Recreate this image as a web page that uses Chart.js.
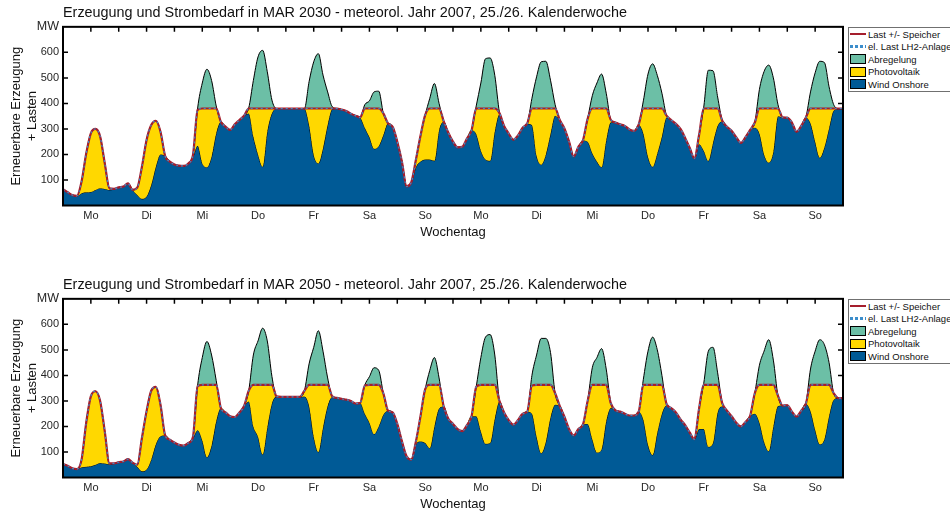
<!DOCTYPE html>
<html lang="de">
<head>
<meta charset="utf-8">
<script src="https://cdn.jsdelivr.net/npm/chart.js@4.4.0/dist/chart.umd.min.js"></script>
<style>
    html, body { margin: 0; padding: 0; background: #fff; overflow: hidden; }
    body { width: 950px; height: 513px; position: relative; font-family: "Liberation Sans", Arial, sans-serif; }
    .panel { position: absolute; left: 0; width: 950px; height: 244px; }
    .legend { position: absolute; left: 848px; width: 110px; border: 1px solid #707070; background: #fff;
              font-size: 9.5px; color: #111; }
    .legend .row { height: 12.5px; display: flex; align-items: center; white-space: nowrap; }
    .legend .sym { width: 16px; margin: 0 2px 0 1px; box-sizing: border-box; flex: none; }
    .sym.line { height: 2px; background: #a51e2d; }
    .sym.dots { height: 3px; background: repeating-linear-gradient(90deg, #3c8dcb 0 3px, transparent 3px 5px); }
    .sym.box { height: 10px; border: 1px solid #000; }
</style>
</head>
<body>

<div class="panel" style="top:0"><canvas id="chart2030" width="950" height="244"></canvas></div>
<div class="panel" style="top:272px"><canvas id="chart2050" width="950" height="244"></canvas></div>

<div class="legend" style="top:27px"></div>
<div class="legend" style="top:299px"></div>

<script>
    const dayLabels = ["Mo", "Di", "Mi", "Do", "Fr", "Sa", "So", "Mo", "Di", "Mi", "Do", "Fr", "Sa", "So"];
    const yTicks = [100, 200, 300, 400, 500, 600];
    const hourStep = 2;   // one value every 2 hours, 25./26. KW

    // MAR 2030
    const wind2030 = [
        64, 52, 41, 37, 48, 52, 53, 61, 68, 65, 61, 64,
        71, 74, 87, 61, 41, 26, 35, 80, 152, 200, 194, 172,
        161, 156, 155, 165, 191, 234, 165, 150, 191, 283, 328, 309,
        296, 318, 335, 352, 360, 270, 200, 152, 289, 361, 380, 380,
        380, 380, 380, 380, 380, 315, 198, 165, 224, 315, 378, 380,
        376, 370, 360, 352, 345, 305, 268, 222, 232, 276, 322, 308,
        250, 172, 75, 90, 150, 172, 180, 180, 175, 295, 328, 285,
        250, 228, 230, 262, 295, 280, 215, 180, 175, 290, 357, 312,
        282, 258, 275, 305, 320, 315, 195, 160, 200, 280, 352, 335,
        302, 250, 192, 230, 255, 250, 205, 172, 150, 255, 326, 325,
        318, 312, 298, 292, 315, 282, 190, 152, 204, 270, 345, 335,
        320, 300, 265, 225, 185, 240, 215, 175, 245, 312, 330, 309,
        293, 268, 245, 268, 296, 305, 282, 200, 168, 211, 350, 345,
        344, 325, 289, 312, 345, 322, 250, 187, 228, 302, 372, 378, 378
    ];
    const last2030 = [
        64, 52, 41, 38, 94, 204, 283, 300, 270, 165, 67, 65,
        71, 74, 87, 61, 70, 152, 257, 315, 332, 289, 194, 172,
        161, 156, 155, 165, 198, 375, 380, 380, 380, 380, 328, 309,
        296, 318, 335, 352, 380, 380, 380, 380, 380, 380, 380, 380,
        380, 380, 380, 380, 380, 380, 380, 380, 380, 380, 380, 380,
        376, 370, 360, 352, 345, 380, 380, 380, 380, 361, 322, 308,
        250, 172, 75, 90, 178, 273, 354, 380, 380, 380, 330, 285,
        250, 228, 230, 262, 295, 380, 380, 380, 380, 380, 362, 312,
        282, 258, 275, 305, 322, 380, 380, 380, 380, 380, 380, 335,
        302, 250, 192, 230, 256, 340, 380, 380, 380, 380, 335, 325,
        318, 312, 298, 292, 318, 380, 380, 380, 380, 380, 352, 335,
        320, 300, 265, 225, 185, 276, 380, 380, 380, 380, 332, 309,
        293, 268, 245, 268, 296, 325, 380, 380, 380, 380, 380, 345,
        344, 325, 289, 312, 345, 380, 380, 380, 380, 380, 380, 380, 380
    ];
    const gen2030 = [
        64, 52, 41, 38, 94, 204, 283, 300, 270, 165, 67, 65,
        71, 74, 87, 61, 70, 152, 257, 315, 332, 289, 194, 172,
        161, 156, 155, 165, 198, 382, 480, 534, 490, 390, 328, 309,
        296, 318, 335, 352, 382, 490, 582, 608, 524, 413, 380, 380,
        380, 380, 380, 380, 380, 485, 563, 595, 511, 445, 387, 380,
        376, 370, 360, 352, 345, 395, 410, 445, 448, 361, 322, 308,
        250, 172, 75, 90, 178, 273, 354, 420, 478, 400, 330, 285,
        250, 228, 230, 262, 295, 390, 480, 575, 578, 510, 365, 312,
        282, 258, 275, 305, 322, 420, 504, 563, 565, 491, 395, 335,
        302, 250, 192, 230, 256, 340, 430, 480, 515, 440, 335, 325,
        318, 312, 298, 292, 318, 410, 515, 555, 510, 440, 352, 335,
        320, 300, 265, 225, 185, 276, 385, 530, 528, 425, 332, 309,
        293, 268, 245, 268, 296, 325, 455, 525, 550, 500, 395, 345,
        344, 325, 289, 312, 345, 445, 520, 565, 560, 465, 395, 380, 380
    ];

    // MAR 2050
    const wind2050 = [
        53, 46, 36, 33, 40, 42, 44, 50, 57, 55, 52, 55,
        60, 63, 72, 58, 42, 24, 31, 70, 130, 162, 165, 148,
        137, 128, 125, 135, 155, 185, 145, 79, 125, 220, 272, 255,
        240, 237, 255, 280, 298, 200, 160, 90, 195, 290, 317, 316,
        316, 316, 316, 316, 317, 280, 160, 100, 195, 280, 315, 312,
        308, 305, 300, 290, 292, 250, 215, 170, 200, 246, 262, 255,
        210, 142, 83, 70, 130, 141, 135, 115, 200, 270, 278, 230,
        210, 190, 182, 205, 240, 240, 180, 132, 135, 230, 298, 255,
        225, 207, 225, 250, 258, 250, 160, 95, 140, 235, 285, 280,
        238, 190, 165, 190, 208, 210, 150, 98, 110, 220, 272, 263,
        258, 250, 243, 243, 258, 226, 128, 88, 175, 250, 283, 272,
        255, 228, 205, 176, 150, 190, 190, 120, 135, 255, 278, 262,
        240, 215, 200, 218, 242, 250, 215, 140, 103, 200, 280, 282,
        283, 258, 239, 262, 289, 260, 187, 130, 150, 240, 305, 311, 311
    ];
    const last2050 = [
        53, 46, 36, 33, 70, 215, 318, 338, 300, 180, 55, 55,
        60, 63, 72, 58, 50, 155, 260, 340, 355, 285, 165, 148,
        137, 128, 125, 135, 160, 358, 363, 363, 363, 363, 272, 255,
        240, 237, 255, 280, 340, 363, 363, 363, 363, 363, 318, 316,
        316, 316, 316, 316, 340, 363, 363, 363, 363, 363, 318, 312,
        308, 305, 300, 290, 292, 360, 363, 363, 363, 330, 262, 255,
        210, 142, 83, 70, 140, 240, 345, 363, 363, 363, 278, 230,
        210, 190, 182, 205, 240, 355, 363, 363, 363, 363, 300, 255,
        225, 207, 225, 250, 258, 360, 363, 363, 363, 363, 330, 280,
        238, 190, 165, 190, 208, 300, 363, 363, 363, 363, 290, 263,
        258, 250, 243, 243, 258, 363, 363, 363, 363, 363, 288, 272,
        255, 228, 205, 176, 150, 270, 363, 363, 363, 363, 290, 262,
        240, 215, 200, 218, 242, 330, 363, 363, 363, 363, 320, 282,
        283, 258, 239, 262, 289, 363, 363, 363, 363, 363, 330, 311, 311
    ];
    const gen2050 = [
        53, 46, 36, 33, 70, 215, 318, 338, 300, 180, 55, 55,
        60, 63, 72, 58, 50, 155, 260, 340, 355, 285, 165, 148,
        137, 128, 125, 135, 160, 362, 470, 533, 480, 380, 272, 255,
        240, 237, 255, 280, 340, 480, 535, 585, 535, 396, 318, 316,
        316, 316, 316, 316, 340, 445, 510, 575, 495, 390, 318, 312,
        308, 305, 300, 290, 292, 362, 395, 430, 420, 330, 262, 255,
        210, 142, 83, 70, 140, 240, 345, 420, 470, 390, 278, 230,
        210, 190, 182, 205, 240, 355, 470, 550, 560, 480, 300, 255,
        225, 207, 225, 250, 258, 400, 480, 545, 545, 490, 330, 280,
        238, 190, 165, 190, 208, 300, 430, 470, 505, 425, 290, 263,
        258, 250, 243, 243, 258, 385, 495, 550, 500, 400, 288, 272,
        255, 228, 205, 176, 150, 270, 368, 495, 510, 410, 290, 262,
        240, 215, 200, 218, 242, 330, 440, 495, 540, 460, 320, 282,
        283, 258, 239, 262, 289, 425, 495, 540, 520, 450, 330, 311, 311
    ];

    const legendItems = [
        {label: "Last +/- Speicher", cls: "line"},
        {label: "el. Last LH2-Anlage", cls: "dots"},
        {label: "Abregelung", cls: "box", color: "#6cbfa6"},
        {label: "Photovoltaik", cls: "box", color: "#ffd800"},
        {label: "Wind Onshore", cls: "box", color: "#005a96"}
    ];

    document.querySelectorAll(".legend").forEach(el => {
        el.innerHTML = legendItems.map(it =>
            '<div class="row"><span class="sym ' + it.cls + '"' +
            (it.color ? ' style="background:' + it.color + '"' : '') +
            '></span>' + it.label + '</div>').join("");
    });

    Chart.defaults.font.family = '"Liberation Sans", Arial, sans-serif';
    Chart.defaults.color = "#262626";

    const toPoints = arr => arr.map((v, i) => ({x: i * hourStep, y: v}));

    // box, inner tick marks (under the data like matlab) and frame on top
    const frame = {
        id: "frame",
        beforeDatasetsDraw(chart) {
            const {ctx, chartArea: a, scales: {x, y}} = chart;
            ctx.save();
            ctx.strokeStyle = "#000";
            ctx.lineWidth = 1.5;
            ctx.beginPath();
            for (let h = 12; h < 336; h += 12) {
                const px = x.getPixelForValue(h);
                ctx.moveTo(px, a.top);
                ctx.lineTo(px, a.top + 5);
            }
            yTicks.forEach(v => {
                const py = y.getPixelForValue(v);
                ctx.moveTo(a.left, py);
                ctx.lineTo(a.left + 5, py);
                ctx.moveTo(a.right - 5, py);
                ctx.lineTo(a.right, py);
            });
            ctx.stroke();
            ctx.restore();
        },
        afterDatasetsDraw(chart) {
            const {ctx, chartArea: a} = chart;
            ctx.save();
            ctx.strokeStyle = "#000";
            ctx.lineWidth = 2;
            ctx.strokeRect(a.left, a.top, a.right - a.left, a.bottom - a.top);
            ctx.restore();
        }
    };

    function makeChart(id, title, wind, last, gen) {
        return new Chart(id, {
            type: "line",
            data: {
                datasets: [
                    {
                        label: "el. Last LH2-Anlage",
                        data: toPoints(last),
                        borderColor: "#3c8dcb",
                        borderWidth: 1.2,
                        borderDash: [2, 3],
                        fill: false
                    },
                    {
                        label: "Last +/- Speicher",
                        data: toPoints(last),
                        borderColor: "#a51e2d",
                        borderWidth: 2.2,
                        fill: false
                    },
                    {
                        label: "Abregelung",
                        data: toPoints(gen),
                        borderColor: "#000",
                        borderWidth: 1,
                        backgroundColor: "#6cbfa6",
                        fill: "+1"
                    },
                    {
                        label: "Photovoltaik",
                        data: toPoints(last),
                        borderWidth: 0,
                        borderColor: "rgba(0,0,0,0)",
                        backgroundColor: "#ffd800",
                        fill: "+1"
                    },
                    {
                        label: "Wind Onshore",
                        data: toPoints(wind),
                        borderColor: "#000",
                        borderWidth: 1,
                        backgroundColor: "#005a96",
                        fill: "origin"
                    }
                ]
            },
            options: {
                responsive: false,
                animation: false,
                layout: {padding: {left: 0, right: 107, top: 0, bottom: 0}},
                elements: {
                    point: {radius: 0},
                    line: {cubicInterpolationMode: "monotone"}
                },
                plugins: {
                    legend: {display: false},
                    tooltip: {enabled: false},
                    title: {
                        display: true,
                        text: title,
                        align: "start",
                        fullSize: false,
                        color: "#111",
                        font: {size: 14.4, weight: "normal", lineHeight: 1.1},
                        padding: {top: 5, bottom: 6}
                    }
                },
                scales: {
                    x: {
                        type: "linear",
                        min: 0,
                        max: 336,
                        afterBuildTicks: s => { s.ticks = dayLabels.map((d, i) => ({value: 12 + 24 * i})); },
                        afterFit: s => { s.height = 38.5; },
                        grid: {display: false, drawTicks: false},
                        border: {display: false},
                        ticks: {
                            autoSkip: false,
                            maxRotation: 0,
                            padding: 4,
                            font: {size: 11},
                            callback: (v, i) => dayLabels[i]
                        },
                        title: {
                            display: true,
                            text: "Wochentag",
                            color: "#111",
                            font: {size: 13},
                            padding: {top: 0, bottom: 4}
                        }
                    },
                    y: {
                        min: 0,
                        max: 700,
                        afterBuildTicks: s => { s.ticks = yTicks.concat([700]).map(v => ({value: v})); },
                        afterFit: s => { s.width = 63; },
                        grid: {display: false, drawTicks: false},
                        border: {display: false},
                        ticks: {
                            padding: 4,
                            font: c => ({size: c.tick && c.tick.value === 700 ? 12.5 : 11}),
                            callback: v => v === 700 ? "MW" : v
                        },
                        title: {
                            display: true,
                            text: ["Erneuerbare Erzeugung", "+ Lasten"],
                            color: "#111",
                            font: {size: 13, lineHeight: 1.3},
                            padding: {top: 7.5, bottom: 0}
                        }
                    }
                }
            },
            plugins: [frame]
        });
    }

    makeChart("chart2030", "Erzeugung und Strombedarf in MAR 2030 - meteorol. Jahr 2007, 25./26. Kalenderwoche",
        wind2030, last2030, gen2030);
    makeChart("chart2050", "Erzeugung und Strombedarf in MAR 2050 - meteorol. Jahr 2007, 25./26. Kalenderwoche",
        wind2050, last2050, gen2050);
</script>

</body>
</html>
